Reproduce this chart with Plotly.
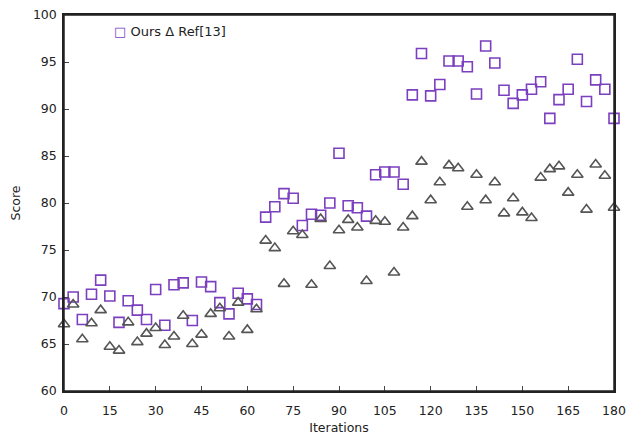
import plotly.graph_objects as go

iterations = list(range(0, 181, 3))
ours = [69.3, 70.0, 67.6, 70.3, 71.8, 70.1, 67.3, 69.6, 68.6, 67.6,
        70.8, 67.0, 71.3, 71.5, 67.5, 71.6, 71.1, 69.4, 68.2, 70.4,
        69.8, 69.2, 78.5, 79.6, 81.0, 80.5, 77.6, 78.8, 78.7, 80.0,
        85.3, 79.7, 79.5, 78.6, 83.0, 83.3, 83.3, 82.0, 91.5, 95.9,
        91.4, 92.6, 95.1, 95.1, 94.5, 91.6, 96.7, 94.9, 92.0, 90.6,
        91.5, 92.1, 92.9, 89.0, 91.0, 92.1, 95.3, 90.8, 93.1, 92.1, 89.0]
ref13 = [67.1, 69.2, 65.5, 67.2, 68.6, 64.7, 64.3, 67.3, 65.2, 66.1,
         66.7, 64.9, 65.8, 68.0, 65.0, 66.0, 68.2, 68.8, 65.8, 69.4,
         66.5, 68.7, 76.0, 75.2, 71.4, 77.0, 76.6, 71.3, 78.3, 73.3,
         77.1, 78.2, 77.4, 71.7, 78.1, 78.0, 72.6, 77.4, 78.6, 84.4,
         80.3, 82.2, 84.0, 83.7, 79.6, 83.0, 80.3, 82.2, 78.9, 80.5,
         79.0, 78.4, 82.7, 83.6, 83.9, 81.1, 83.0, 79.3, 84.1, 82.9, 79.5]
x_ticks = list(range(0, 181, 15))
y_ticks = list(range(60, 101, 5))

font_family = "DejaVu Sans, Verdana, sans-serif"
ours_color = "#7B3FBF"
ref_color = "#555555"

fig = go.Figure()
fig.add_trace(go.Scatter(
    x=iterations, y=ours, mode="markers", name="Ours", cliponaxis=False,
    marker=dict(symbol="square-open", size=10, color=ours_color,
                line=dict(width=1.6, color=ours_color))))
fig.add_trace(go.Scatter(
    x=iterations, y=ref13, mode="markers", name="Ref[13]", cliponaxis=False,
    marker=dict(symbol="triangle-up-open", size=10, color=ref_color,
                line=dict(width=1.6, color=ref_color))))

fig.update_layout(
    width=627, height=437,
    margin=dict(l=64, r=13, t=15, b=46),
    paper_bgcolor="white", plot_bgcolor="white",
    font=dict(family=font_family, size=12, color="#222222"),
    showlegend=False,
    annotations=[dict(
        xref="paper", yref="paper", x=0.087, y=0.955,
        xanchor="left", yanchor="middle", showarrow=False,
        text=f'<span style="color:{ours_color}">□</span> Ours Δ Ref[13]',
        font=dict(size=13, family=font_family, color="#222222"))],
    shapes=[dict(type="rect", xref="paper", yref="paper", x0=0, y0=0, x1=1, y1=1,
                 line=dict(color="#222222", width=1.5), layer="above")],
)
fig.update_xaxes(
    range=[0, 180], tickvals=x_ticks, ticks="inside", ticklen=5,
    showline=True, linecolor="#222222", linewidth=1.5, mirror=True,
    showgrid=False, zeroline=False, automargin=False, ticklabelstandoff=7,
    ticklabeloverflow="allow",
    tickfont=dict(size=12.5),
    title=dict(text="Iterations", standoff=6, font=dict(size=12.5)))
fig.update_yaxes(
    range=[60, 100], tickvals=y_ticks, ticks="inside", ticklen=5,
    showline=True, linecolor="#222222", linewidth=1.5, mirror=True,
    showgrid=False, zeroline=False, automargin=False, ticklabelstandoff=3,
    ticklabeloverflow="allow",
    tickfont=dict(size=12.5),
    title=dict(text="Score", standoff=10, font=dict(size=12.5)))

fig.write_html(
    "out.html",
    config={"displayModeBar": False},
    post_script="document.body.style.margin='0';document.body.style.overflow='hidden';",
)
